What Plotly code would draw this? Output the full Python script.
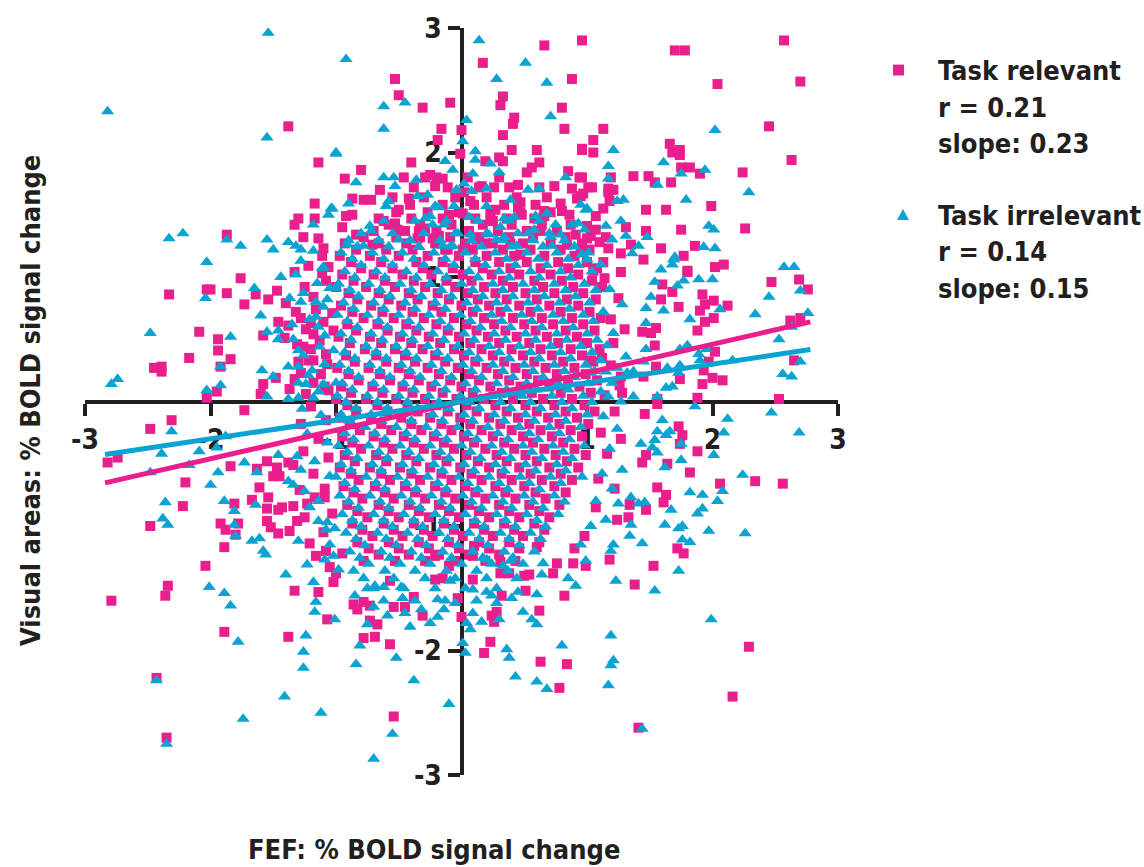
import plotly.graph_objects as go

# ---------------- data ----------------
# Task relevant (pink squares): outer / individually readable points
relevant_outer = [
    (-1.38,2.21),(-1.14,1.92),(-1.17,1.59),(-1.30,1.47),(-1.17,1.47),(-1.33,1.42),(-1.26,1.32),(-1.14,1.31),
    (-1.87,1.34),(-1.10,1.23),(-1.11,1.17),(-1.22,1.09),(-1.06,1.08),(-2.33,0.86),(-2.03,0.90),(-2.00,0.90),
    (-1.87,0.87),(-1.76,0.99),(-1.73,0.78),(-1.64,0.86),(-1.54,0.82),(-1.47,0.89),(-1.40,0.79),(-1.33,1.04),
    (-1.11,1.03),(-2.09,0.56),(-1.94,0.50),(-1.94,0.41),(-2.17,0.35),(-2.45,0.27),(-2.39,0.28),(-2.39,0.24),
    (-1.84,0.34),(-1.92,0.28),(-1.95,0.08),(-1.58,0.14),(-1.48,0.19),(-1.60,0.06),(-1.37,0.10),(-1.46,0.64),
    (-1.38,0.61),(-1.58,0.53),(-1.41,0.51),(-1.28,0.67),(-1.20,0.63),(-1.18,0.54),(-1.26,0.44),(-1.20,0.42),
    (-1.30,0.32),(-1.18,0.33),(-1.07,0.30),(-1.03,0.71),(-1.02,0.57),(-1.16,0.74),(-1.18,0.15),(-1.28,0.23),
    (-1.06,0.09),(-1.24,0.06),
    (0.66,2.86),(0.96,2.90),(0.17,2.72),(-0.53,2.59),(-0.50,2.46),(-0.31,2.36),(-0.09,2.40),(0.88,2.59),
    (0.33,2.45),(0.31,2.38),(0.80,2.36),(0.42,2.28),(0.41,2.23),(0.82,2.19),(0.00,2.18),(-0.16,2.19),
    (-0.19,2.10),(0.33,2.14),(0.96,2.02),(0.60,2.02),(-0.01,1.99),(0.30,1.96),(0.33,1.93),(0.19,1.93),
    (0.62,1.92),(0.56,1.88),(0.52,1.84),(-0.80,1.86),(-0.93,1.79),(-0.25,1.82),(-0.29,1.80),(-0.15,1.79),
    (-0.21,1.73),(0.16,1.73),(0.26,1.72),(0.45,1.74),(0.74,1.73),(0.94,1.80),(0.88,1.71),(0.95,1.65),
    (1.01,1.72),(-0.65,1.70),(-0.42,1.63),(0.07,1.61),(0.02,1.68),(-0.87,1.63),(-0.78,1.62),(-0.50,1.54),
    (-0.92,1.49),(-0.87,1.50),(0.27,1.54),(0.45,1.56),(0.47,1.60),(0.48,1.50),(0.66,1.53),(0.66,1.49),
    (0.79,1.59),(0.80,1.53),(0.86,1.50),(0.92,1.63),(0.97,1.67),(0.23,1.46),(-0.10,1.50),(0.01,1.51),
    (-0.62,1.45),(-0.53,1.43),(-0.51,1.38),(-0.34,1.37),(-0.29,1.39),(-0.84,1.34),(-0.71,1.26),(-0.35,1.31),
    (-0.23,1.31),(-0.18,1.33),(-0.11,1.22),(0.01,1.22),(0.12,1.30),(0.19,1.27),(0.25,1.45),(0.39,1.27),
    (0.47,1.18),(0.63,1.37),(0.91,1.34),(1.00,1.31),(0.84,1.26),(0.95,1.22),
    (2.57,2.90),(1.70,2.82),(1.78,2.82),(2.04,2.55),(2.70,2.57),(2.45,2.21),(2.63,1.94),(2.24,1.84),
    (1.99,1.57),(2.26,1.39),(1.86,1.25),(2.09,1.10),(2.02,1.08),(1.13,2.19),(1.05,2.10),(1.05,2.00),
    (0.96,2.03),(1.66,2.07),(1.68,2.00),(1.74,2.02),(1.74,1.98),(1.75,1.88),(1.82,1.88),(1.90,1.83),
    (0.96,1.80),(1.19,1.80),(1.37,1.81),(1.49,1.81),(1.54,1.76),(1.67,1.76),(1.04,1.72),(1.17,1.71),
    (1.21,1.70),(1.17,1.68),(1.18,1.61),(1.13,1.55),(1.47,1.54),(1.63,1.54),(1.07,1.49),(1.31,1.40),
    (1.00,1.41),(1.07,1.38),(1.03,1.33),(1.15,1.32),(1.47,1.37),(1.75,1.38),(1.35,1.26),(1.27,1.19),
    (1.17,1.23),(1.59,1.23),(1.77,1.17),(1.45,1.14),(1.13,1.12),(1.05,1.05),(1.27,1.04),(1.80,1.04),
    (2.47,0.96),(2.69,0.98),(2.76,0.90),(2.62,0.65),(2.70,0.67),(2.65,0.33),(2.53,0.02),(2.08,0.17),
    (2.00,0.19),(1.92,0.14),(1.97,0.32),(2.02,0.40),(1.93,0.25),(1.88,0.03),(1.74,0.18),(1.88,0.57),
    (1.94,0.64),(2.01,0.67),(1.90,0.73),(1.94,0.78),(2.01,0.81),(2.12,0.77),(1.92,0.86),(1.73,0.76),
    (1.80,1.05),(1.68,0.88),(1.60,0.94),(1.59,0.82),(1.55,0.59),(1.51,0.55),(1.54,0.45),(1.44,0.56),
    (1.55,0.28),(1.45,0.20),(1.27,0.20),(1.19,0.29),(1.03,0.33),(1.28,0.07),(1.56,0.02),
    (2.29,-1.97),(2.16,-2.37),(1.41,-2.62),(1.38,-1.47),(1.53,-1.32),(1.72,-1.18),(1.77,-1.22),(1.18,-1.27),
    (1.24,-0.95),(1.33,-0.93),(0.99,-1.32),(1.82,-0.57),(1.47,-0.87),(1.34,-0.83),(1.56,-0.69),(1.63,-0.75),
    (1.61,-0.81),(1.64,-0.50),(1.88,-0.40),(1.74,-0.34),(1.73,-0.20),(1.76,-0.27),(1.47,-0.43),(1.44,-0.49),
    (1.46,-0.10),(1.56,-0.02),(2.34,-0.64),(2.56,-0.66),(2.06,-0.66),
    (-0.54,-2.53),(-0.57,-1.95),(-0.78,-1.90),(-0.69,-1.89),(-0.73,-1.76),(-0.67,-1.79),(-0.31,-1.72),(0.00,-1.73),
    (0.18,-2.02),(0.23,-1.93),(0.26,-1.77),(0.24,-1.72),(0.28,-1.69),(0.63,-2.09),(0.78,-2.30),(0.84,-2.11),
    (0.62,-1.68),(0.82,-1.56),(0.51,-1.52),(0.32,-1.56),(0.09,-1.43),(-0.03,-1.58),(-0.21,-1.43),(-0.15,-1.42),
    (-0.38,-1.57),(-0.45,-1.65),(-0.54,-1.65),(-0.86,-1.63),(-0.78,-1.61),(-0.73,-1.64),(-0.83,-1.67),(-0.57,-1.44),
    (-0.21,-1.24),(-0.10,-1.32),(0.10,-1.16),(0.09,-1.24),(0.31,-1.29),(0.38,-1.38),(0.31,-1.38),(0.50,-1.40),
    (0.54,-1.39),(0.73,-1.38),(0.76,-1.30),(0.89,-1.30),(0.60,-1.17),
    (-2.03,0.03),(-2.31,-0.15),(-2.48,-0.22),(-2.82,-0.49),(-2.74,-0.45),(-2.20,-0.65),(-2.22,-0.84),(-2.48,-1.00),
    (-1.84,-0.52),(-1.73,-0.07),(-1.81,-0.82),(-1.92,-0.98),(-1.88,-1.03),(-1.78,-0.98),(-1.80,-1.07),(-1.89,-1.17),
    (-2.04,-1.32),(-2.34,-1.48),(-2.36,-1.56),(-2.79,-1.60),(-1.89,-1.85),(-2.43,-2.22),(-2.35,-2.70),(-1.38,-1.89),
    (-1.33,-1.52),(-1.07,-1.75),(-1.14,-1.53),(-1.02,-1.45),(-1.21,-1.14),(-1.16,-1.24),(-1.08,-1.20),(-1.05,-1.33),
    (-1.00,-1.38),(-1.55,-0.96),(-1.52,-1.01),(-1.46,-1.06),(-1.37,-1.04),(-1.31,-0.96),(-1.55,-0.86),(-1.46,-0.87),
    (-1.43,-0.85),(-1.34,-0.84),(-1.54,-0.77),(-1.67,-0.79),(-1.61,-0.69),(-1.63,-0.54),(-1.55,-0.48),(-1.47,-0.53),
    (-1.50,-0.60),(-1.45,-0.60),(-1.29,-0.71),(-1.38,-0.49),(-1.34,-0.51),(-1.23,-0.82),(-1.17,-0.77),(-1.09,-0.77),
]
# Task relevant: edge of the dense centre
relevant_fringe = [
    (-1.08,0.97),(-1.25,0.92),(-1.18,0.84),(-1.32,0.72),(-1.10,0.64),(-1.24,0.58),(-1.13,0.49),(-1.31,0.46),
    (-1.08,0.38),(-1.22,0.33),(-1.12,0.22),(-1.33,0.18),(-1.09,0.12),(-1.20,-0.04),(-1.08,-0.15),(-1.28,-0.18),
    (-1.14,-0.30),(-1.26,-0.40),(-1.06,-0.45),(-1.18,-0.58),(-1.09,-0.70),(-1.25,-0.93),(-1.03,-0.90),(-1.10,-1.05),
    (-0.95,-1.22),(1.14,0.99),(1.25,0.83),(1.19,0.66),(1.30,0.58),(1.21,0.47),(1.12,0.35),(1.26,0.13),
    (1.14,0.05),(1.22,-0.08),(1.11,-0.25),(1.27,-0.30),(1.16,-0.42),(1.09,-0.62),(1.22,-0.70),(1.07,-0.85),
    (0.98,-1.08),(0.90,-1.18),(-0.95,1.40),(1.10,1.28),(-0.72,1.62),(0.85,1.85),(-0.40,1.92),(0.40,2.02),
]
# Task relevant: the solid centre, estimated row by row as (y, [x, ...])
relevant_core_rows = [
    (1.80, [-0.46,-0.20,0.05,0.30]),
    (1.72, [-0.38,-0.11,0.14,0.38,0.62]),
    (1.64, [-0.55,-0.30,-0.05,0.20,0.44,0.68]),
    (1.58, [-0.41,-0.15,0.10,0.34,0.59]),
    (1.52, [-0.52,-0.27,-0.02,0.23,0.47,0.71]),
    (1.47, [-0.66,-0.40,-0.15,0.11,0.36,0.58]),
    (1.42, [-0.58,-0.33,-0.08,0.17,0.40,0.64,0.87]),
    (1.37, [-0.70,-0.45,-0.20,0.06,0.29,0.52,0.76]),
    (1.32, [-0.78,-0.52,-0.33,-0.09,0.14,0.38,0.57,0.83]),
    (1.27, [-0.93,-0.66,-0.44,-0.21,0.03,0.25,0.49,0.71,0.96]),
    (1.22, [-0.84,-0.60,-0.39,-0.13,0.09,0.33,0.55,0.79,1.02]),
    (1.17, [-0.97,-0.73,-0.50,-0.27,-0.02,0.20,0.42,0.66,0.90]),
    (1.12, [-0.88,-0.64,-0.36,-0.15,0.11,0.30,0.52,0.77,1.00]),
    (1.07, [-0.80,-0.55,-0.31,-0.07,0.17,0.39,0.63,0.85,1.08]),
    (1.02, [-0.95,-0.70,-0.47,-0.24,0.01,0.24,0.46,0.71,0.93]),
    (0.97, [-0.86,-0.61,-0.38,-0.12,0.08,0.33,0.58,0.80,1.04]),
    (0.92, [-1.00,-0.76,-0.53,-0.29,-0.05,0.18,0.41,0.65,0.89,1.12]),
    (0.87, [-0.90,-0.66,-0.42,-0.19,0.05,0.27,0.51,0.74,0.97]),
    (0.82, [-0.83,-0.58,-0.35,-0.10,0.13,0.36,0.60,0.84,1.07]),
    (0.77, [-0.96,-0.72,-0.48,-0.23,0.00,0.22,0.46,0.70,0.93]),
    (0.72, [-0.87,-0.63,-0.39,-0.16,0.09,0.31,0.55,0.79,1.02]),
    (0.67, [-0.78,-0.54,-0.30,-0.06,0.18,0.41,0.64,0.88,1.11]),
    (0.62, [-0.91,-0.67,-0.44,-0.20,0.04,0.26,0.50,0.73,0.97]),
    (0.57, [-0.84,-0.59,-0.36,-0.11,0.12,0.35,0.59,0.83,1.06]),
    (0.52, [-0.98,-0.73,-0.49,-0.26,-0.02,0.21,0.44,0.68,0.92]),
    (0.47, [-0.89,-0.64,-0.40,-0.17,0.07,0.30,0.54,0.77,1.00]),
    (0.42, [-0.77,-0.53,-0.31,-0.06,0.16,0.40,0.63,0.87,1.10]),
    (0.37, [-0.92,-0.68,-0.45,-0.21,0.02,0.25,0.49,0.72,0.96]),
    (0.32, [-0.85,-0.60,-0.37,-0.13,0.11,0.34,0.58,0.81,1.05]),
    (0.27, [-0.99,-0.74,-0.50,-0.27,-0.03,0.20,0.43,0.67,0.90]),
    (0.22, [-0.90,-0.65,-0.42,-0.18,0.06,0.29,0.52,0.76,0.99]),
    (0.17, [-0.82,-0.57,-0.34,-0.09,0.14,0.38,0.61,0.85,1.08]),
    (0.12, [-0.96,-0.71,-0.47,-0.24,0.00,0.23,0.47,0.70,0.94]),
    (0.07, [-0.88,-0.63,-0.39,-0.15,0.09,0.32,0.56,0.79,1.03]),
    (0.02, [-1.00,-0.76,-0.52,-0.29,-0.04,0.18,0.41,0.65,0.88]),
    (-0.03, [-0.91,-0.67,-0.43,-0.20,0.04,0.27,0.51,0.74,0.98]),
    (-0.08, [-0.84,-0.59,-0.35,-0.11,0.12,0.36,0.60,0.83,1.06]),
    (-0.13, [-0.97,-0.72,-0.48,-0.25,-0.01,0.22,0.45,0.69,0.92]),
    (-0.18, [-0.89,-0.64,-0.40,-0.16,0.07,0.31,0.54,0.78,1.01]),
    (-0.23, [-0.81,-0.56,-0.32,-0.08,0.16,0.40,0.63,0.87]),
    (-0.28, [-0.95,-0.70,-0.46,-0.22,0.02,0.25,0.49,0.72,0.96]),
    (-0.33, [-0.87,-0.62,-0.38,-0.14,0.10,0.34,0.57,0.81]),
    (-0.38, [-0.80,-0.55,-0.30,-0.06,0.19,0.42,0.66,0.90]),
    (-0.43, [-0.93,-0.68,-0.44,-0.20,0.04,0.28,0.51,0.75,0.99]),
    (-0.48, [-0.85,-0.60,-0.36,-0.12,0.13,0.36,0.60,0.84]),
    (-0.53, [-0.97,-0.73,-0.49,-0.25,-0.01,0.22,0.46,0.70,0.93]),
    (-0.58, [-0.88,-0.64,-0.40,-0.16,0.08,0.32,0.55,0.79]),
    (-0.63, [-0.82,-0.57,-0.33,-0.08,0.16,0.40,0.64,0.88]),
    (-0.68, [-0.94,-0.69,-0.45,-0.21,0.03,0.27,0.50,0.74]),
    (-0.73, [-0.86,-0.61,-0.37,-0.13,0.11,0.35,0.59,0.83]),
    (-0.78, [-0.79,-0.54,-0.29,-0.05,0.19,0.43,0.67]),
    (-0.83, [-0.91,-0.66,-0.42,-0.18,0.06,0.30,0.54,0.78]),
    (-0.88, [-0.83,-0.58,-0.34,-0.10,0.14,0.38,0.62]),
    (-0.93, [-0.75,-0.50,-0.26,-0.02,0.22,0.46,0.70]),
    (-0.98, [-0.87,-0.62,-0.38,-0.14,0.10,0.34,0.58]),
    (-1.03, [-0.79,-0.54,-0.30,-0.06,0.18,0.42,0.66]),
    (-1.08, [-0.71,-0.47,-0.23,0.01,0.25,0.49]),
    (-1.13, [-0.83,-0.58,-0.34,-0.10,0.14,0.38,0.62]),
    (-1.18, [-0.74,-0.50,-0.26,-0.02,0.22,0.46]),
    (-1.23, [-0.66,-0.42,-0.18,0.06,0.30]),
    (-1.28, [-0.78,-0.53,-0.29,-0.05,0.19,0.43]),
]

# Task irrelevant (blue triangles): outer / individually readable points
irrelevant_outer = [
    (-1.54,2.96),(-2.82,2.33),(-1.55,2.12),(-1.00,1.99),(-1.04,1.55),(-1.06,1.50),(-1.18,1.42),(-2.33,1.31),
    (-2.22,1.35),(-1.87,1.30),(-1.76,1.25),(-2.03,1.12),(-1.55,1.30),(-1.50,1.22),(-1.38,1.28),(-1.32,1.25),
    (-1.28,1.22),(-1.18,1.21),(-1.28,1.13),(-1.10,1.08),(-2.74,0.18),(-2.79,0.14),(-2.48,0.55),(-2.04,0.83),
    (-1.84,0.52),(-1.92,0.28),(-1.92,0.13),(-1.65,0.91),(-1.44,1.00),(-1.60,0.69),(-1.55,0.56),(-1.59,0.25),
    (-1.50,0.20),(-1.37,0.83),(-1.32,1.02),(-1.26,0.87),(-1.46,0.57),(-1.46,0.50),(-1.34,0.50),(-1.30,0.41),
    (-1.38,0.28),(-1.30,0.28),(-1.30,0.15),(-1.24,0.14),(-1.16,0.68),(-1.14,0.60),(-1.09,0.53),(-1.02,0.41),
    (-1.19,0.25),(-1.10,0.14),(-1.00,0.15),(-1.05,0.91),(-1.07,0.82),(-1.00,0.91),(-1.16,0.80),(-1.11,1.07),
    (-1.55,0.04),(-1.38,0.02),(-1.30,0.03),(-1.18,0.03),(-2.03,0.09),
    (-2.31,-0.24),(-2.48,-0.57),(-2.39,-0.42),(-2.36,-0.81),(-2.38,-0.94),(-2.34,-0.99),(-2.17,-0.51),(-2.09,-0.40),
    (-2.00,-0.67),(-1.94,-0.57),(-1.95,-0.37),(-1.88,-0.28),(-1.73,-0.49),(-1.89,-0.80),(-1.81,-0.88),(-1.81,-0.99),
    (-1.80,-1.08),(-2.01,-1.49),(-1.89,-1.54),(-1.84,-1.64),(-1.78,-1.93),(-2.43,-2.24),(-2.35,-2.75),(-1.74,-2.55),
    (-1.41,-2.37),(-1.12,-2.50),(-1.24,-1.88),(-1.26,-2.01),(-1.26,-2.14),(-1.40,-1.39),(-1.01,-1.75),(-1.16,-1.61),
    (-1.17,-1.69),(-1.18,-1.45),(-1.23,-1.31),(-1.09,-1.27),(-1.02,-1.24),(-1.67,-1.12),(-1.61,-1.10),(-1.58,-1.20),
    (-1.56,-1.23),(-1.64,-0.83),(-1.63,-0.57),(-1.46,-0.43),(-1.38,-0.64),(-1.34,-0.67),(-1.28,-0.55),(-1.21,-0.85),
    (-1.14,-0.96),(-1.07,-0.97),(-1.08,-1.03),(-1.01,-1.02),
    (-0.55,-2.67),(-0.70,-2.87),(-0.10,-2.43),(-0.38,-2.24),(-0.52,-2.06),(-0.84,-2.11),(-0.81,-1.96),(-0.75,-1.79),
    (-0.41,-1.81),(-0.59,-1.72),(-0.32,-1.67),(-0.25,-1.78),(-0.19,-1.73),(-0.14,-1.67),(0.04,-1.78),(0.07,-1.83),
    (0.09,-1.70),(0.01,-1.94),(0.03,-2.02),(0.16,-1.77),(0.30,-1.75),(0.36,-1.99),(0.38,-2.06),(0.43,-2.21),
    (0.60,-2.25),(0.68,-2.31),(0.80,-1.96),(0.56,-1.75),(0.60,-1.79),(0.49,-1.69),(0.91,-1.48),(0.40,-1.58),
    (0.45,-1.53),(0.20,-1.53),(0.24,-1.56),(0.09,-1.51),(-0.09,-1.44),(-0.19,-1.59),(-0.47,-1.58),(-0.48,-1.49),
    (-0.62,-1.49),(-0.69,-1.48),(-0.75,-1.50),(-0.85,-1.56),(0.20,-1.27),(0.33,-1.32),(0.39,-1.28),(0.65,-1.30),
    (0.99,-1.28),(0.64,-1.39),
    (2.12,-0.14),(2.47,-0.09),(2.69,-0.25),(2.09,-0.25),(2.01,-0.43),(2.24,-0.59),(2.08,-0.72),(2.04,-0.80),
    (2.26,-1.06),(1.97,-1.04),(1.99,-1.75),(1.44,-2.63),(1.19,-1.88),(1.19,-2.12),(1.21,-2.08),(1.17,-2.28),
    (1.54,-1.52),(1.23,-1.44),(1.73,-1.36),(1.76,-1.11),(1.82,-1.13),(1.73,-1.02),(1.76,-1.00),(1.62,-0.99),
    (1.44,-1.14),(1.34,-1.08),(1.35,-0.99),(1.19,-1.20),(1.21,-1.15),(1.03,-1.00),(1.88,-0.90),(1.92,-0.86),
    (1.92,-0.75),(1.82,-0.73),(1.67,-0.87),(1.25,-0.82),(1.35,-0.77),(1.41,-0.82),(1.46,-0.81),(1.62,-0.53),
    (1.75,-0.47),(1.75,-0.34),(1.66,-0.24),(1.63,-0.27),(1.56,-0.24),(1.60,-0.15),(1.54,-0.31),(1.52,-0.37),
    (1.56,-0.41),(1.43,-0.34),(1.86,-0.04),(1.56,0.04),
    (2.57,1.08),(2.65,1.08),(2.70,0.89),(2.45,0.84),(2.34,0.70),(2.76,0.71),(2.63,0.60),(2.53,0.50),
    (2.70,0.32),(2.56,0.22),(2.63,0.20),(2.16,0.33),(1.95,0.42),(1.89,0.38),(1.90,0.33),(1.80,0.45),
    (1.74,0.42),(1.74,0.29),(1.73,0.23),(1.64,0.27),(1.63,0.11),(1.68,0.12),(1.82,0.66),(2.06,0.74),
    (1.61,0.73),(1.47,0.75),(1.89,0.98),(2.00,0.98),(1.77,0.97),(1.72,0.93),(1.59,1.06),(1.69,1.14),
    (1.93,1.24),(2.02,1.23),(1.54,0.96),(1.51,0.84),(1.47,0.63),(1.47,0.42),(1.45,0.32),(1.37,0.24),
    (1.32,0.23),(1.24,0.27),(1.11,0.33),(1.15,0.24),(1.03,0.23),(1.11,0.08),(1.17,0.04),(1.37,0.04),
    (2.02,2.18),(2.29,1.68),(1.97,1.41),(2.01,1.38),(1.21,2.02),(1.61,1.92),(1.17,1.89),(1.94,1.86),
    (1.75,1.83),(1.17,1.79),(1.56,1.74),(1.24,1.61),(1.29,1.62),(1.00,1.55),(1.79,1.62),(1.27,1.45),
    (1.15,1.41),(1.20,1.30),(1.31,1.33),(1.48,1.32),(1.41,1.25),(1.36,1.19),(1.70,1.16),(1.68,1.10),
    (1.11,1.10),(1.00,1.14),(0.96,1.18),
    (0.14,2.90),(0.51,2.72),(-0.92,2.75),(-0.45,2.40),(-0.62,2.37),(0.28,2.59),(0.68,2.56),(0.71,2.29),
    (-0.62,2.19),(0.04,2.26),(0.01,2.09),(-1.00,2.00),(0.11,2.01),(0.11,1.94),(-0.13,1.93),(0.23,1.91),
    (-0.07,1.86),(0.30,1.84),(0.09,1.83),(-0.84,1.76),(-0.62,1.80),(-0.54,1.80),(-0.36,1.78),(-0.53,1.73),
    (0.20,1.71),(0.53,1.70),(0.83,1.80),(0.62,1.71),(-0.35,1.65),(-0.27,1.66),(0.02,1.75),(-0.04,1.70),
    (0.08,1.69),(-0.90,1.59),(-0.58,1.61),(-0.60,1.57),(-1.03,1.55),(0.20,1.57),(0.39,1.62),(0.59,1.49),
    (0.68,1.51),(0.95,1.58),(0.99,1.54),(0.34,1.47),(0.42,1.48),(-0.29,1.47),(-0.25,1.49),(-0.21,1.57),
    (-0.18,1.56),(-0.06,1.57),(0.06,1.48),(-0.73,1.41),(-0.72,1.37),(-0.91,1.26),(-0.78,1.25),(-0.50,1.30),
    (-0.34,1.24),(-0.23,1.42),(-0.14,1.42),(-0.15,1.25),(-0.07,1.25),(-0.03,1.35),(0.07,1.34),(0.22,1.34),
    (0.28,1.30),(0.31,1.40),(0.34,1.32),(0.44,1.25),(0.53,1.35),(0.58,1.38),(0.75,1.42),(0.71,1.32),
    (0.79,1.34),(0.88,1.42),(0.93,1.43),(0.98,1.38),(0.72,1.25),
]
# Task irrelevant: edge of the dense centre
irrelevant_fringe = [
    (-1.15,0.95),(-1.28,0.80),(-1.10,0.76),(-1.21,0.66),(-1.35,0.62),(-1.13,0.44),(-1.26,0.37),(-1.09,0.30),
    (-1.22,0.21),(-1.14,0.08),(-1.27,-0.06),(-1.12,-0.11),(-1.23,-0.26),(-1.07,-0.33),(-1.31,-0.44),(-1.17,-0.48),
    (-1.05,-0.60),(-1.25,-0.72),(-1.14,-0.80),(-1.30,-1.12),(-1.05,-1.15),(-0.98,-1.35),
    (1.18,0.90),(1.28,0.78),(1.13,0.72),(1.21,0.55),(1.16,0.45),(1.31,0.36),(1.20,0.15),(1.27,0.00),
    (1.13,-0.12),(1.24,-0.22),(1.18,-0.38),(1.28,-0.55),(1.12,-0.58),(1.20,-0.70),(1.07,-0.80),(1.15,-0.95),
    (0.95,-1.15),(0.85,-1.42),(-0.45,-1.70),(-0.05,-1.62),(0.28,-1.62),(-0.70,-1.65),(0.60,-1.55),
]
# Task irrelevant: the solid centre, estimated row by row as (y, [x, ...])
irrelevant_core_rows = [
    (1.45, [-0.62,-0.37,-0.12,0.13,0.38,0.62]),
    (1.35, [-0.80,-0.55,-0.30,-0.05,0.20,0.45,0.70]),
    (1.295, [-0.90,-0.66,-0.41,-0.17,0.08,0.33,0.57,0.82]),
    (1.245, [-0.83,-0.58,-0.34,-0.09,0.16,0.40,0.65,0.90]),
    (1.195, [-0.96,-0.71,-0.47,-0.22,0.03,0.27,0.52,0.76,1.01]),
    (1.145, [-0.87,-0.62,-0.38,-0.13,0.11,0.36,0.61,0.85]),
    (1.095, [-0.80,-0.55,-0.30,-0.06,0.19,0.43,0.68,0.93]),
    (1.045, [-0.93,-0.68,-0.44,-0.19,0.06,0.30,0.55,0.79,1.04]),
    (0.995, [-0.85,-0.61,-0.36,-0.12,0.13,0.38,0.62,0.87]),
    (0.945, [-0.98,-0.74,-0.49,-0.25,0.00,0.25,0.49,0.74,0.98]),
    (0.895, [-0.89,-0.65,-0.40,-0.16,0.09,0.33,0.58,0.83,1.07]),
    (0.845, [-0.82,-0.57,-0.32,-0.08,0.17,0.41,0.66,0.91]),
    (0.795, [-0.94,-0.70,-0.45,-0.21,0.04,0.28,0.53,0.78,1.02]),
    (0.745, [-0.86,-0.62,-0.37,-0.13,0.12,0.36,0.61,0.86]),
    (0.695, [-0.99,-0.75,-0.50,-0.26,-0.01,0.24,0.48,0.73,0.97]),
    (0.645, [-0.91,-0.66,-0.42,-0.17,0.07,0.32,0.56,0.81,1.05]),
    (0.595, [-0.83,-0.59,-0.34,-0.10,0.15,0.39,0.64,0.89]),
    (0.545, [-0.96,-0.72,-0.47,-0.23,0.02,0.26,0.51,0.76,1.00]),
    (0.495, [-0.88,-0.63,-0.39,-0.14,0.10,0.35,0.59,0.84,1.08]),
    (0.445, [-0.76,-0.52,-0.27,-0.03,0.22,0.46,0.71,0.95]),
    (0.395, [-0.93,-0.68,-0.44,-0.19,0.06,0.30,0.55,0.79,1.04]),
    (0.345, [-0.85,-0.60,-0.36,-0.11,0.13,0.38,0.62,0.87]),
    (0.295, [-0.97,-0.73,-0.48,-0.24,0.01,0.25,0.50,0.74,0.99]),
    (0.245, [-0.90,-0.65,-0.41,-0.16,0.08,0.33,0.57,0.82,1.06]),
    (0.195, [-0.82,-0.57,-0.33,-0.08,0.16,0.41,0.65,0.90]),
    (0.145, [-0.95,-0.70,-0.46,-0.21,0.03,0.28,0.52,0.77,1.01]),
    (0.095, [-0.87,-0.62,-0.38,-0.13,0.11,0.36,0.60,0.85]),
    (0.045, [-0.99,-0.75,-0.50,-0.26,-0.01,0.23,0.48,0.72,0.97]),
    (-0.005, [-0.92,-0.67,-0.43,-0.18,0.06,0.31,0.55,0.80,1.04]),
    (-0.055, [-0.84,-0.59,-0.35,-0.10,0.14,0.39,0.63,0.88]),
    (-0.105, [-0.96,-0.72,-0.47,-0.23,0.02,0.26,0.51,0.75,1.00]),
    (-0.155, [-0.89,-0.64,-0.40,-0.15,0.09,0.34,0.58,0.83]),
    (-0.205, [-0.77,-0.52,-0.28,-0.03,0.21,0.46,0.70,0.95]),
    (-0.255, [-0.93,-0.69,-0.44,-0.20,0.05,0.29,0.54,0.78]),
    (-0.305, [-0.86,-0.61,-0.37,-0.12,0.12,0.37,0.61,0.86]),
    (-0.355, [-0.98,-0.74,-0.49,-0.25,0.00,0.24,0.49,0.73,0.98]),
    (-0.405, [-0.91,-0.66,-0.42,-0.17,0.07,0.32,0.56,0.81]),
    (-0.455, [-0.83,-0.59,-0.34,-0.10,0.15,0.39,0.64,0.88]),
    (-0.505, [-0.96,-0.71,-0.47,-0.22,0.02,0.27,0.51,0.76]),
    (-0.555, [-0.88,-0.64,-0.39,-0.15,0.10,0.34,0.59,0.83]),
    (-0.605, [-1.00,-0.76,-0.51,-0.27,-0.02,0.22,0.47,0.71,0.96]),
    (-0.655, [-0.93,-0.68,-0.44,-0.19,0.05,0.30,0.54,0.79]),
    (-0.705, [-0.85,-0.61,-0.36,-0.12,0.13,0.37,0.62]),
    (-0.755, [-0.97,-0.73,-0.48,-0.24,0.01,0.25,0.50,0.74]),
    (-0.805, [-0.90,-0.65,-0.41,-0.16,0.08,0.33,0.57,0.82]),
    (-0.855, [-0.82,-0.58,-0.33,-0.09,0.16,0.40,0.65]),
    (-0.905, [-0.95,-0.70,-0.46,-0.21,0.03,0.28,0.52,0.77]),
    (-0.955, [-0.87,-0.62,-0.38,-0.14,0.11,0.35,0.60]),
    (-1.005, [-0.80,-0.55,-0.31,-0.06,0.18,0.43,0.67]),
    (-1.055, [-0.92,-0.67,-0.43,-0.18,0.06,0.31,0.55]),
    (-1.105, [-0.84,-0.60,-0.35,-0.11,0.14,0.38,0.63]),
    (-1.155, [-0.77,-0.52,-0.28,-0.03,0.21,0.46]),
    (-1.205, [-0.89,-0.64,-0.40,-0.15,0.09,0.34,0.58]),
    (-1.255, [-0.81,-0.57,-0.32,-0.08,0.17,0.41]),
    (-1.305, [-0.74,-0.49,-0.25,0.00,0.24,0.49]),
    (-1.36, [-0.86,-0.61,-0.37,-0.12,0.12,0.37]),
    (-1.42, [-0.78,-0.54,-0.29,-0.05,0.20,0.44]),
    (-1.50, [-0.70,-0.46,-0.21,0.03,0.28]),
    (-1.60, [-0.62,-0.37,-0.13,0.12]),
]

# linear fits (from legend)
fit_names = ["Task relevant", "Task irrelevant"]
fit_r = [0.21, 0.14]
fit_slope = [0.23, 0.15]
fit_intercept = [0.0, 0.0]
fit_x_range = [-2.84, 2.78]

axis_ticks = [-3, -2, -1, 1, 2, 3]
axis_ticktext = ["-3", "-2", "-1", "1", "2", "3"]

x_title = "FEF: % BOLD signal change"
y_title = "Visual areas: % BOLD signal change"

# ---------------- styling ----------------
PINK = "#EA1E8C"
BLUE = "#0AA3D2"
INK = "#231F20"
FONT = "Liberation Sans Narrow, DejaVu Sans Condensed, Arial Narrow, sans-serif"

W, H = 1144, 867
L, R, T, B = 85, 838, 20, 775  # plot area in pixels


def px(xp):
    return (xp - L) / (R - L)


def py(yp):
    return (B - yp) / (B - T)


def expand(rows):
    return [(x, y) for y, xs in rows for x in xs]


rel = relevant_outer + relevant_fringe + expand(relevant_core_rows)
irr = irrelevant_outer + irrelevant_fringe + expand(irrelevant_core_rows)

fig = go.Figure()
fig.add_trace(go.Scatter(
    x=[p[0] for p in rel], y=[p[1] for p in rel], mode="markers",
    marker=dict(symbol="square", size=10, color=PINK, line=dict(width=0)),
    cliponaxis=False, showlegend=False, name=fit_names[0]))
fig.add_trace(go.Scatter(
    x=[p[0] for p in irr], y=[p[1] for p in irr], mode="markers",
    marker=dict(symbol="triangle-up", size=11.5, color=BLUE, line=dict(width=0)),
    cliponaxis=False, showlegend=False, name=fit_names[1]))

for i, col in enumerate([PINK, BLUE]):
    xs = fit_x_range
    ys = [fit_slope[i] * v + fit_intercept[i] for v in xs]
    fig.add_trace(go.Scatter(x=xs, y=ys, mode="lines",
                             line=dict(color=col, width=5),
                             cliponaxis=False, showlegend=False))

axis_common = dict(
    range=[-3, 3], showgrid=False, zeroline=False, showline=True,
    linecolor=INK, linewidth=4, ticks="outside", ticklen=12, tickwidth=4,
    tickcolor=INK, tickvals=axis_ticks, ticktext=axis_ticktext,
    tickfont=dict(family=FONT, size=28, color=INK, weight="bold"),
    anchor="free", position=0.5, layer="below traces", fixedrange=True,
)
fig.update_layout(
    width=W, height=H,
    margin=dict(l=L, r=W - R, t=T, b=H - B, pad=0),
    paper_bgcolor="white", plot_bgcolor="white",
    xaxis=dict(**axis_common),
    yaxis=dict(**axis_common),
)

annotations = []
legend_lines = [
    (63, fit_names[0]), (100, f"r = {fit_r[0]:.2f}"), (137, f"slope: {fit_slope[0]:.2f}"),
    (210, fit_names[1]), (246, f"r = {fit_r[1]:.2f}"), (283, f"slope: {fit_slope[1]:.2f}"),
]
for yp, txt in legend_lines:
    annotations.append(dict(x=px(936), y=py(yp), xref="paper", yref="paper",
                            text=txt, showarrow=False, xanchor="left", yanchor="middle",
                            font=dict(family=FONT, size=27, color=INK, weight="bold")))
annotations.append(dict(x=px(434), y=py(850), xref="paper", yref="paper", text=x_title,
                        showarrow=False, xanchor="center", yanchor="middle",
                        font=dict(family=FONT, size=27, color=INK, weight="bold")))
annotations.append(dict(x=px(30), y=py(397), xref="paper", yref="paper", text=y_title,
                        textangle=-90, showarrow=False, xanchor="center", yanchor="middle",
                        font=dict(family=FONT, size=27, color=INK, weight="bold")))
fig.update_layout(annotations=annotations)

# legend symbols
fig.add_shape(type="rect", xref="paper", yref="paper",
              x0=px(893), x1=px(904), y0=py(68), y1=py(57),
              fillcolor=PINK, line=dict(width=0))
fig.add_shape(type="path", xref="paper", yref="paper",
              path=f"M {px(897)} {py(214)} L {px(909)} {py(214)} L {px(903)} {py(203)} Z",
              fillcolor=BLUE, line=dict(width=0))

fig.write_html("out.html")
